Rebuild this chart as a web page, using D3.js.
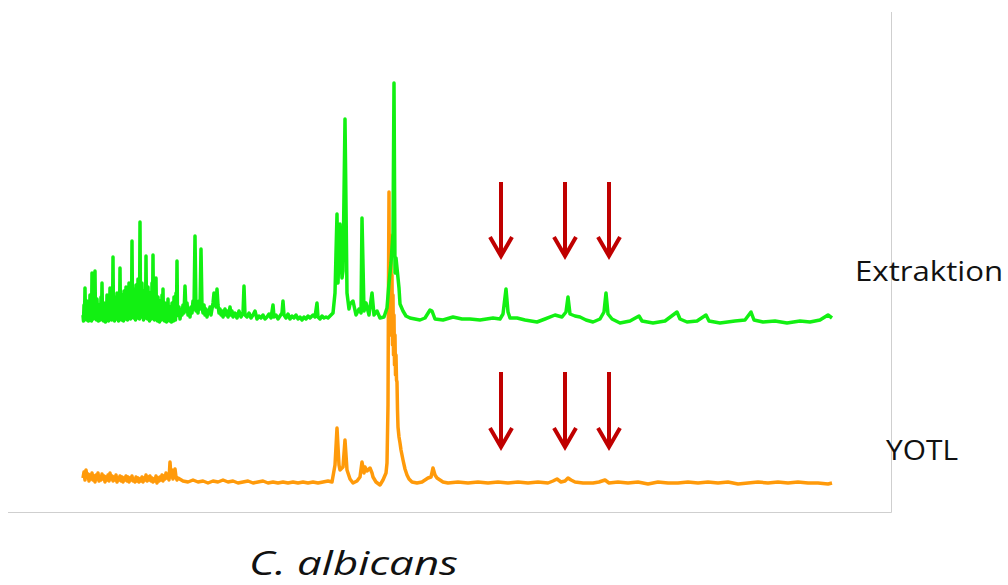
<!DOCTYPE html>
<html>
<head>
<meta charset="utf-8">
<script src="https://cdn.jsdelivr.net/npm/d3@7"></script>
<style>
  body { margin: 0; background: #fff; }
  svg { display: block; }
</style>
</head>
<body>
<svg width="1008" height="585"></svg>
<script>
// spectra: [channel, intensity]
const extraktion = [
  [0,8],[1,18],[2,35],[3,12],[4,22],[5,6],[6,16],[7,28],[8,10],[9,50],[10,20],[11,30],[12,52],[13,14],[14,24],
  [15,8],[16,18],[17,12],[18,26],[19,40],[20,10],[21,20],[22,6],[23,16],[24,28],[25,12],[26,20],[27,35],[28,14],
  [29,22],[30,66],[31,12],[32,26],[33,18],[34,30],[35,10],[36,24],[37,55],[38,16],[39,28],[40,12],[41,32],[42,20],
  [43,36],[44,14],[45,26],[46,40],[47,18],[48,30],[49,82],[50,22],[51,34],[52,16],[53,38],[54,24],[55,44],[56,20],
  [57,101],[58,26],[59,40],[60,18],[61,32],[62,24],[63,67],[64,20],[65,36],[66,14],[67,30],[68,22],[69,40],[70,68],
  [71,18],[72,30],[73,45],[74,14],[75,26],[76,10],[77,22],[78,16],[79,28],[80,34],[81,12],[82,20],[83,8],[84,18],
  [85,24],[86,10],[87,16],[88,6],[89,20],[90,12],[91,26],[92,14],[93,30],[94,62],[95,10],[96,16],[97,4],[98,12],
  [99,8],[100,18],[101,10],[102,37],[103,12],[104,20],[105,8],[106,14],[107,6],[108,16],[109,10],[110,22],[111,14],
  [112,87],[113,12],[114,18],[115,10],[116,22],[117,14],[118,74],[119,16],[120,10],[121,18],[122,8],[123,14],[124,6],
  [125,12],[126,10],[127,16],[128,8],[129,14],[130,20],[131,30],[132,25],[133,16],[134,34],[135,18],[136,10],[137,14],
  [138,8],[139,12],[140,6],[141,10],[142,14],[143,8],[144,12],[145,6],[146,10],[147,16],[148,8],[149,12],[150,6],
  [152,10],[154,5],[156,12],[158,6],[160,10],[161,37],[162,8],[164,6],[166,10],[168,5],[170,8],[172,12],[174,4],
  [176,7],[178,5],[180,8],[182,4],[184,6],[186,9],[188,5],[190,18],[191,6],[193,8],[195,4],[197,7],[199,10],[200,22],
  [201,8],[203,5],[205,9],[207,4],[209,7],[211,5],[213,8],[215,4],[217,6],[219,3],[221,6],[223,4],[225,7],[227,5],
  [230,8],[232,6],[234,20],[235,6],[237,4],[239,7],[241,5],[243,6],[245,5],[248,8],[250,10],[252,30],[254,109],
  [255,40],[257,99],[259,45],[260,52],[262,204],[264,30],[266,14],[267,19],[270,22],[273,8],[276,14],[278,10],
  [279,105],[281,12],[283,20],[286,8],[289,30],[291,8],[294,12],[297,5],[301,6],[304,15],[306,40],[308,60],[310,90],
  [311,240],[312,50],[313,65],[314,55],[316,35],[317,19],[320,12],[323,7],[327,5],[332,4],[337,3],[342,5],[347,13],
  [349,12],[352,4],[360,3],[370,6],[379,4],[387,4],[397,3],[410,5],[417,4],[420,9],[423,34],[425,11],[427,5],
  [434,5],[442,3],[454,1],[462,4],[472,8],[479,6],[483,11],[485,26],[487,9],[492,7],[497,6],[503,3],[510,1],[517,4],
  [521,11],[523,30],[525,9],[529,4],[537,0],[547,2],[556,7],[559,2],[570,0],[582,2],[594,11],[597,4],[604,1],[614,2],
  [623,8],[626,2],[637,0],[652,2],[662,3],[668,11],[671,3],[680,1],[692,2],[704,0],[717,2],[727,1],[737,3],[745,8],
  [749,5]
];

// the low dips in between, where the left part of the trace is dense
const extraktionDips = [
  [0.5,2],[1.5,6],[2.5,4],[3.5,3],[4.5,14],[5.5,2],[6.5,4],[7.5,6],[8.5,2],[9.5,8],[10.5,4],[11.5,6],[12.5,5],
  [13.5,3],[14.5,8],[15.5,2],[16.5,5],[17.5,3],[18.5,6],[19.5,8],[20.5,2],[21.5,5],[22.5,1],[23.5,4],[24.5,6],
  [25.5,2],[26.5,4],[27.5,8],[28.5,3],[29.5,6],[30.5,3],[31.5,2],[32.5,8],[33.5,4],[34.5,6],[35.5,2],[36.5,5],
  [37.5,10],[38.5,3],[39.5,6],[40.5,2],[41.5,8],[42.5,4],[43.5,10],[44.5,3],[45.5,6],[46.5,9],[47.5,4],[48.5,7],
  [49.5,10],[50.5,5],[51.5,8],[52.5,3],[53.5,9],[54.5,5],[55.5,12],[56.5,4],[57.5,14],[58.5,6],[59.5,10],[60.5,3],
  [61.5,8],[62.5,5],[63.5,12],[64.5,4],[65.5,9],[66.5,2],[67.5,7],[68.5,4],[69.5,10],[70.5,6],[71.5,3],[72.5,8],
  [73.5,6],[74.5,2],[75.5,6],[76.5,1],[77.5,5],[78.5,3],[79.5,7],[80.5,4],[81.5,2],[82.5,5],[83.5,1],[84.5,4],
  [85.5,6],[86.5,2],[87.5,4],[88.5,1],[89.5,5],[90.5,2],[91.5,6],[92.5,3],[93.5,7],[94.5,8]
];

const yotl = [
  [0,7],[1,13],[2,5],[3,15],[4,8],[5,11],[6,4],[7,10],[8,6],[9,12],[10,5],[11,9],[12,3],[13,10],[14,6],[15,12],
  [16,4],[17,8],[18,5],[19,11],[20,6],[21,9],[22,3],[23,8],[24,5],[25,10],[26,4],[27,12],[28,6],[29,9],[30,4],
  [31,8],[32,5],[33,10],[34,3],[35,7],[36,5],[37,9],[38,4],[39,8],[40,3],[41,7],[42,5],[43,9],[44,4],[45,8],[46,3],
  [47,7],[48,5],[49,9],[50,4],[51,6],[52,3],[53,8],[54,4],[55,7],[56,3],[57,6],[58,4],[59,8],[60,3],[61,7],[62,5],
  [63,10],[64,4],[65,8],[66,5],[67,9],[68,4],[69,7],[70,3],[71,6],[72,4],[73,9],[74,2],[75,7],[76,4],[77,8],[78,5],
  [79,10],[80,4],[81,9],[82,6],[83,12],[84,7],[85,11],[86,5],[87,23],[88,8],[89,15],[90,6],[91,12],[92,16],[93,8],
  [94,5],[95,7],[100,4],[105,3],[110,5],[115,3],[120,4],[125,2],[130,4],[135,3],[140,5],[145,3],[150,4],[155,2],
  [160,3],[165,4],[170,2],[175,3],[180,4],[185,2],[190,3],[195,2],[200,3],[205,2],[210,3],[215,2],[220,3],[225,2],
  [230,3],[235,2],[240,3],[245,4],[249,3],[252,20],[254,57],[256,20],[257,15],[260,18],[262,45],[264,15],[267,6],
  [270,2],[274,4],[277,8],[279,23],[281,12],[282,18],[284,14],[287,17],[289,12],[290,8],[293,3],[297,0],[300,5],
  [303,12],[304,22],[305,80],[305.5,200],[306,293],[306.5,150],[307,250],[307.5,160],[308,230],[308.5,150],
  [309,210],[309.5,140],[310,190],[310.5,130],[311,170],[311.5,120],[312,150],[312.5,110],[313,130],[313.5,105],
  [314,103],[314.5,75],[315,58],[316,48],[317,42],[318,35],[320,25],[322,16],[324,10],[326,6],[329,3],[334,2],
  [339,3],[345,7],[348,8],[350,17],[352,10],[354,7],[360,3],[365,2],[375,3],[385,2],[395,3],[405,2],[415,3],[425,2],
  [435,3],[445,2],[455,3],[465,2],[470,4],[474,6],[478,3],[482,4],[485,7],[488,5],[492,3],[500,2],[510,2],[516,3],
  [522,5],[526,2],[535,3],[545,2],[555,3],[565,1],[575,3],[585,2],[595,2],[605,3],[615,2],[625,3],[635,2],[645,3],
  [655,1],[665,2],[675,3],[685,2],[695,3],[705,2],[715,3],[725,2],[735,2],[745,1],[749,2]
];

const seriesNames = ["Extraktion", "YOTL"];
const arrowChannels = [418, 482, 526];
const speciesName = "C. albicans";

const svg = d3.select("svg");

const x = d3.scaleLinear().domain([0, 749]).range([83, 832]);

// one intensity scale per track, same gain
function track(base) {
  return d3.scaleLinear().domain([0, 300]).range([base, base - 300]);
}
const yGreen = track(323);
const yOrange = track(485);

// frame
svg.append("path")
  .attr("d", "M891.5,12 V512.5 H8")
  .attr("fill", "none")
  .attr("stroke", "#cfcfcf")
  .attr("stroke-width", 1);

function drawSpectrum(data, y, color) {
  const line = d3.line()
    .x(d => x(d[0]))
    .y(d => y(d[1]));
  return svg.append("path")
    .datum(data)
    .attr("d", line)
    .attr("fill", "none")
    .attr("stroke", color)
    .attr("stroke-width", 3.5)
    .attr("stroke-linejoin", "round");
}

const greenAll = extraktion.concat(extraktionDips).sort((a, b) => a[0] - b[0]);

drawSpectrum(yotl, yOrange, "#ff9a0a");
drawSpectrum(greenAll, yGreen, "#12f012");

// red arrows above the marked peaks
function drawArrows(top, tip) {
  const g = svg.append("g")
    .attr("stroke", "#c00000")
    .attr("stroke-width", 4)
    .attr("fill", "none");
  arrowChannels.forEach(c => {
    const ax = x(c);
    g.append("line")
      .attr("x1", ax).attr("x2", ax)
      .attr("y1", top).attr("y2", tip - 2);
    g.append("path")
      .attr("d", `M${ax - 11},${tip - 19} L${ax},${tip} L${ax + 11},${tip - 19}`)
      .attr("stroke-linejoin", "miter");
  });
}
drawArrows(182, 256);
drawArrows(372, 447);

// labels
svg.append("text")
  .attr("x", 855).attr("y", 281)
  .attr("font-family", "'Open Sans', sans-serif")
  .attr("font-size", 27)
  .attr("fill", "#111")
  .attr("textLength", 148)
  .attr("lengthAdjust", "spacingAndGlyphs")
  .text(seriesNames[0]);

svg.append("text")
  .attr("x", 886).attr("y", 460)
  .attr("font-family", "'Open Sans', sans-serif")
  .attr("font-size", 27)
  .attr("fill", "#111")
  .attr("textLength", 72)
  .attr("lengthAdjust", "spacingAndGlyphs")
  .text(seriesNames[1]);

svg.append("text")
  .attr("x", 249).attr("y", 575)
  .attr("font-family", "'Open Sans', sans-serif")
  .attr("font-style", "italic")
  .attr("font-size", 32)
  .attr("fill", "#111")
  .attr("textLength", 209)
  .attr("lengthAdjust", "spacingAndGlyphs")
  .text(speciesName);
</script>
</body>
</html>
